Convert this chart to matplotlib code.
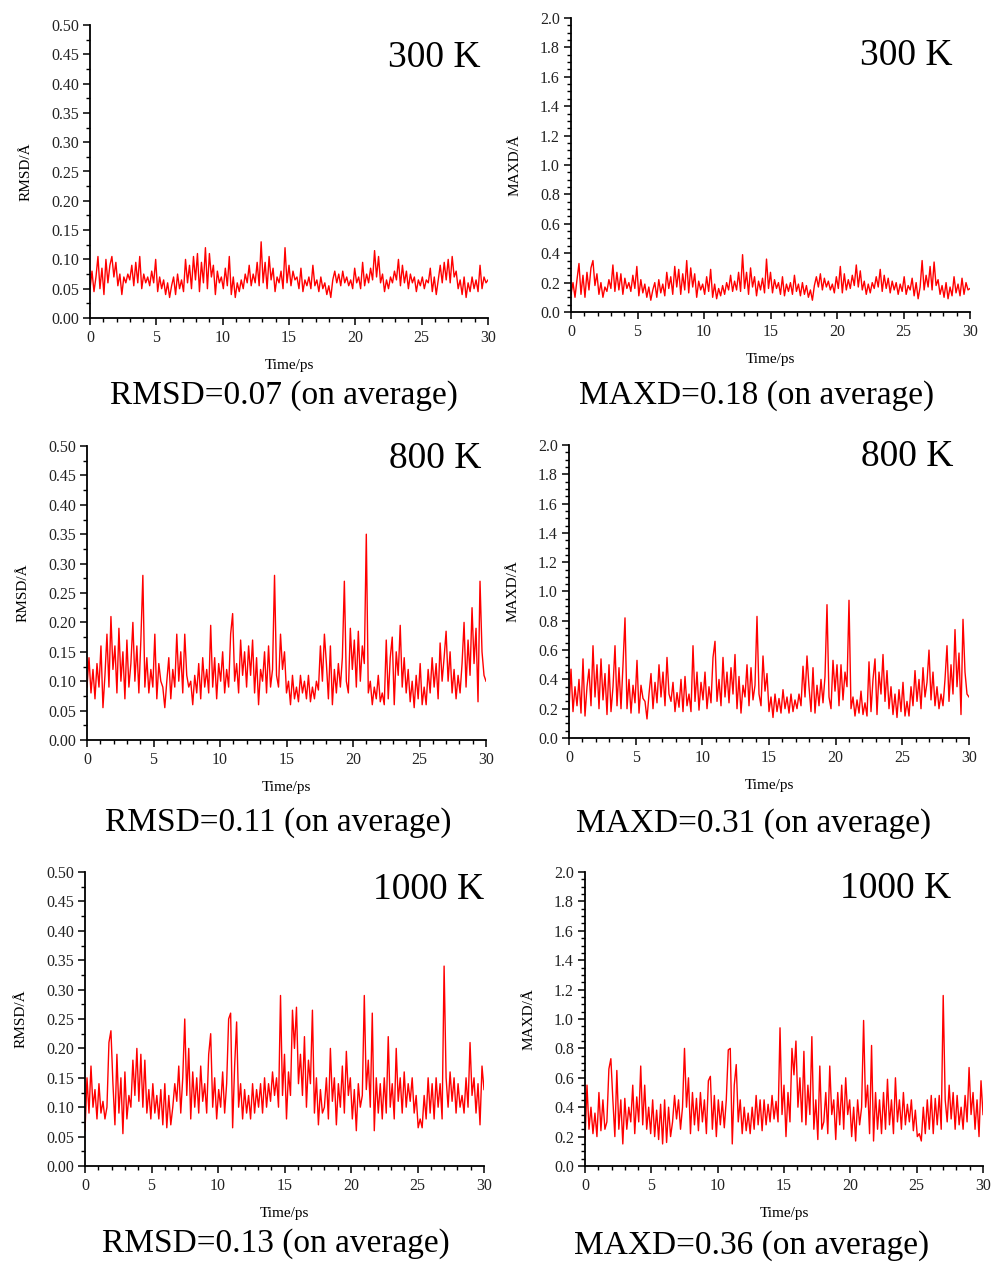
import matplotlib
matplotlib.use("Agg")
import matplotlib.pyplot as plt
import numpy as np
from matplotlib.ticker import MultipleLocator

plt.rcParams["font.family"] = ["Liberation Serif", "DejaVu Serif"]

# values every 0.15 ps (one row = 1.5 ps)
rmsd_300 = [
    0.05, 0.08, 0.045, 0.07, 0.105, 0.05, 0.085, 0.04, 0.10, 0.06,
    0.09, 0.105, 0.07, 0.095, 0.055, 0.075, 0.04, 0.07, 0.06, 0.075,
    0.065, 0.09, 0.055, 0.095, 0.06, 0.105, 0.05, 0.075, 0.06, 0.07,
    0.055, 0.08, 0.06, 0.10, 0.045, 0.07, 0.05, 0.065, 0.04, 0.06,
    0.035, 0.055, 0.07, 0.04, 0.075, 0.05, 0.065, 0.045, 0.10, 0.06,
    0.09, 0.05, 0.105, 0.065, 0.11, 0.045, 0.095, 0.06, 0.12, 0.05,
    0.11, 0.07, 0.09, 0.04, 0.08, 0.06, 0.07, 0.05, 0.085, 0.055,
    0.105, 0.04, 0.07, 0.035, 0.06, 0.045, 0.065, 0.05, 0.075, 0.06,
    0.09, 0.055, 0.075, 0.06, 0.095, 0.055, 0.13, 0.06, 0.095, 0.05,
    0.105, 0.065, 0.085, 0.045, 0.07, 0.06, 0.08, 0.05, 0.12, 0.06,
    0.09, 0.055, 0.08, 0.065, 0.07, 0.05, 0.085, 0.045, 0.065, 0.055,
    0.07, 0.05, 0.09, 0.055, 0.065, 0.045, 0.07, 0.05, 0.06, 0.04,
    0.055, 0.035, 0.065, 0.08, 0.06, 0.075, 0.055, 0.08, 0.06, 0.07,
    0.055, 0.065, 0.05, 0.085, 0.06, 0.07, 0.05, 0.095, 0.055, 0.075,
    0.06, 0.085, 0.065, 0.115, 0.07, 0.105, 0.06, 0.075, 0.045, 0.065,
    0.05, 0.07, 0.06, 0.08, 0.065, 0.10, 0.055, 0.09, 0.06, 0.08,
    0.05, 0.075, 0.06, 0.07, 0.045, 0.065, 0.055, 0.07, 0.05, 0.065,
    0.06, 0.085, 0.045, 0.07, 0.04, 0.065, 0.09, 0.06, 0.095, 0.065,
    0.10, 0.06, 0.105, 0.07, 0.08, 0.05, 0.065, 0.04, 0.07, 0.035,
    0.06, 0.045, 0.07, 0.05, 0.065, 0.045, 0.09, 0.05, 0.07, 0.06,
    0.065,
]
maxd_300 = [
    0.12, 0.20, 0.10, 0.22, 0.33, 0.12, 0.25, 0.10, 0.27, 0.15,
    0.30, 0.35, 0.18, 0.26, 0.12, 0.20, 0.10, 0.17, 0.14, 0.22,
    0.16, 0.32, 0.14, 0.27, 0.15, 0.26, 0.12, 0.23, 0.16, 0.20,
    0.14, 0.25, 0.16, 0.31, 0.11, 0.22, 0.13, 0.19, 0.10, 0.17,
    0.08, 0.15, 0.20, 0.10, 0.22, 0.13, 0.19, 0.11, 0.27, 0.16,
    0.24, 0.12, 0.31, 0.17, 0.29, 0.12, 0.26, 0.15, 0.35, 0.13,
    0.30, 0.17, 0.26, 0.10, 0.21, 0.15, 0.19, 0.12, 0.24, 0.14,
    0.29, 0.10, 0.19, 0.09, 0.16, 0.11, 0.18, 0.12, 0.20, 0.15,
    0.25, 0.14, 0.21, 0.15, 0.27, 0.14, 0.39, 0.16, 0.27, 0.12,
    0.30, 0.17, 0.24, 0.11, 0.21, 0.15, 0.23, 0.13, 0.36, 0.16,
    0.27, 0.13, 0.22, 0.16, 0.20, 0.12, 0.24, 0.11, 0.19, 0.14,
    0.20, 0.12, 0.25, 0.14, 0.19, 0.11, 0.20, 0.12, 0.18, 0.10,
    0.15, 0.08, 0.18, 0.24, 0.17, 0.26, 0.15, 0.23, 0.17, 0.21,
    0.15, 0.19, 0.13, 0.24, 0.16, 0.31, 0.13, 0.26, 0.15, 0.22,
    0.16, 0.25, 0.18, 0.32, 0.17, 0.28, 0.15, 0.21, 0.12, 0.19,
    0.13, 0.20, 0.16, 0.24, 0.17, 0.29, 0.14, 0.25, 0.16, 0.23,
    0.13, 0.21, 0.15, 0.20, 0.12, 0.19, 0.14, 0.24, 0.12, 0.18,
    0.15, 0.23, 0.11, 0.20, 0.09, 0.17, 0.35, 0.15, 0.25, 0.17,
    0.31, 0.15, 0.34, 0.18, 0.22, 0.12, 0.18, 0.10, 0.20, 0.09,
    0.17, 0.11, 0.24, 0.13, 0.19, 0.11, 0.23, 0.12, 0.20, 0.15,
    0.16,
]
rmsd_800 = [
    0.09, 0.14, 0.08, 0.12, 0.07, 0.13, 0.09, 0.16, 0.055, 0.11,
    0.18, 0.09, 0.21, 0.12, 0.16, 0.08, 0.19, 0.10, 0.15, 0.07,
    0.17, 0.09, 0.13, 0.20, 0.10, 0.16, 0.08, 0.17, 0.28, 0.09,
    0.14, 0.08, 0.12, 0.09, 0.18, 0.07, 0.13, 0.10, 0.09, 0.055,
    0.10, 0.14, 0.07, 0.12, 0.09, 0.18, 0.10, 0.15, 0.08, 0.18,
    0.11, 0.09, 0.10, 0.06, 0.11, 0.08, 0.13, 0.07, 0.14, 0.09,
    0.12, 0.08, 0.195, 0.09, 0.14, 0.07, 0.13, 0.10, 0.15, 0.08,
    0.12, 0.09, 0.18, 0.215, 0.10, 0.13, 0.08, 0.17, 0.11, 0.15,
    0.09, 0.16, 0.11, 0.17, 0.08, 0.14, 0.06, 0.12, 0.10, 0.15,
    0.08, 0.16, 0.09, 0.12, 0.28, 0.11, 0.09, 0.18, 0.12, 0.15,
    0.08, 0.10, 0.06, 0.11, 0.07, 0.09, 0.065, 0.11, 0.08, 0.10,
    0.07, 0.11, 0.065, 0.09, 0.07, 0.10, 0.085, 0.16, 0.10, 0.18,
    0.13, 0.07, 0.16, 0.06, 0.12, 0.08, 0.13, 0.09, 0.14, 0.27,
    0.10, 0.08, 0.19, 0.12, 0.17, 0.09, 0.185, 0.10, 0.16, 0.13,
    0.35, 0.08, 0.10, 0.06, 0.09, 0.07, 0.11, 0.065, 0.08, 0.06,
    0.17, 0.07, 0.14, 0.175, 0.06, 0.15, 0.11, 0.195, 0.09, 0.14,
    0.08, 0.12, 0.065, 0.10, 0.055, 0.11, 0.07, 0.13, 0.06, 0.09,
    0.06, 0.12, 0.08, 0.14, 0.09, 0.13, 0.07, 0.165, 0.10, 0.14,
    0.185, 0.10, 0.15, 0.08, 0.12, 0.07, 0.11, 0.08, 0.13, 0.20,
    0.09, 0.17, 0.11, 0.225, 0.13, 0.19, 0.065, 0.27, 0.15, 0.11,
    0.10,
]
maxd_800 = [
    0.20, 0.47, 0.18, 0.35, 0.22, 0.40, 0.17, 0.54, 0.15, 0.35,
    0.47, 0.22, 0.63, 0.28, 0.50, 0.20, 0.54, 0.26, 0.44, 0.16,
    0.50, 0.18, 0.35, 0.63, 0.22, 0.48, 0.20, 0.50, 0.82, 0.20,
    0.40, 0.17, 0.36, 0.24, 0.53, 0.17, 0.36, 0.27, 0.25, 0.13,
    0.30, 0.44, 0.20, 0.38, 0.24, 0.50, 0.28, 0.45, 0.22, 0.55,
    0.30, 0.25, 0.38, 0.18, 0.31, 0.21, 0.40, 0.18, 0.42, 0.22,
    0.30, 0.18, 0.63, 0.25, 0.45, 0.19, 0.38, 0.26, 0.45, 0.20,
    0.35, 0.24, 0.55, 0.66, 0.25, 0.40, 0.22, 0.55, 0.28, 0.45,
    0.24, 0.48, 0.30, 0.57, 0.20, 0.42, 0.17, 0.36, 0.28, 0.50,
    0.22, 0.48, 0.26, 0.36, 0.83, 0.30, 0.22, 0.56, 0.32, 0.44,
    0.18, 0.28, 0.14, 0.30, 0.18, 0.27, 0.17, 0.33, 0.20, 0.28,
    0.17, 0.30, 0.18, 0.26, 0.20, 0.30, 0.22, 0.49, 0.28, 0.56,
    0.35, 0.18, 0.48, 0.17, 0.36, 0.22, 0.40, 0.24, 0.42, 0.91,
    0.28, 0.20, 0.53, 0.32, 0.50, 0.22, 0.50, 0.26, 0.45, 0.35,
    0.94, 0.20, 0.28, 0.15, 0.26, 0.17, 0.32, 0.16, 0.24, 0.15,
    0.52, 0.18, 0.40, 0.54, 0.16, 0.45, 0.30, 0.57, 0.25, 0.46,
    0.20, 0.35, 0.16, 0.30, 0.14, 0.33, 0.18, 0.38, 0.15, 0.25,
    0.15, 0.35, 0.22, 0.46, 0.25, 0.40, 0.20, 0.48, 0.28, 0.38,
    0.60, 0.26, 0.45, 0.22, 0.35, 0.20, 0.30, 0.22, 0.40, 0.63,
    0.25, 0.50, 0.30, 0.74, 0.35, 0.58, 0.16, 0.81, 0.45, 0.30,
    0.28,
]
rmsd_1000 = [
    0.06, 0.15, 0.09, 0.17, 0.10, 0.13, 0.08, 0.14, 0.09, 0.11,
    0.08, 0.10, 0.21, 0.23, 0.14, 0.07, 0.19, 0.09, 0.15, 0.055,
    0.16, 0.08, 0.12, 0.10, 0.18, 0.12, 0.20, 0.11, 0.19, 0.10,
    0.18, 0.09, 0.13, 0.08, 0.14, 0.09, 0.12, 0.08, 0.13, 0.07,
    0.14, 0.065, 0.12, 0.07, 0.10, 0.14, 0.11, 0.17, 0.09, 0.15,
    0.25, 0.12, 0.20, 0.08, 0.16, 0.10, 0.15, 0.09, 0.17, 0.11,
    0.14, 0.09, 0.19, 0.225, 0.10, 0.15, 0.08, 0.13, 0.10, 0.16,
    0.09, 0.14, 0.25, 0.26, 0.065, 0.17, 0.245, 0.10, 0.14, 0.08,
    0.13, 0.09, 0.12, 0.08, 0.14, 0.09, 0.13, 0.10, 0.14, 0.09,
    0.15, 0.10, 0.14, 0.11, 0.16, 0.12, 0.15, 0.10, 0.29, 0.12,
    0.19, 0.08, 0.16, 0.12, 0.265, 0.20, 0.27, 0.14, 0.19, 0.12,
    0.22, 0.10, 0.18, 0.14, 0.265, 0.09, 0.15, 0.07, 0.13, 0.09,
    0.10, 0.15, 0.08, 0.20, 0.11, 0.15, 0.07, 0.14, 0.10, 0.17,
    0.09, 0.195, 0.12, 0.15, 0.08, 0.13, 0.06, 0.14, 0.10, 0.12,
    0.29, 0.13, 0.18, 0.10, 0.26, 0.06, 0.15, 0.09, 0.14, 0.08,
    0.15, 0.09, 0.22, 0.10, 0.14, 0.08, 0.20, 0.11, 0.15, 0.09,
    0.16, 0.10, 0.14, 0.11, 0.15, 0.09, 0.12, 0.065, 0.08, 0.065,
    0.12, 0.08, 0.15, 0.09, 0.14, 0.08, 0.15, 0.10, 0.14, 0.08,
    0.34, 0.15, 0.10, 0.16, 0.11, 0.15, 0.09, 0.14, 0.10, 0.12,
    0.09, 0.15, 0.10, 0.21, 0.12, 0.15, 0.09, 0.14, 0.07, 0.17,
    0.13,
]
maxd_1000 = [
    0.18, 0.55, 0.25, 0.40, 0.22, 0.36, 0.20, 0.50, 0.24, 0.45,
    0.25, 0.30, 0.66, 0.73, 0.45, 0.20, 0.65, 0.25, 0.45, 0.15,
    0.46, 0.25, 0.40, 0.30, 0.55, 0.22, 0.47, 0.30, 0.68, 0.28,
    0.55, 0.25, 0.40, 0.22, 0.45, 0.20, 0.38, 0.18, 0.42, 0.15,
    0.45, 0.16, 0.40, 0.20, 0.30, 0.48, 0.32, 0.45, 0.25, 0.40,
    0.80, 0.40, 0.60, 0.22, 0.50, 0.28, 0.46, 0.24, 0.50, 0.30,
    0.45, 0.22, 0.58, 0.61, 0.25, 0.48, 0.20, 0.45, 0.28, 0.44,
    0.26, 0.45, 0.79, 0.80, 0.15, 0.55, 0.69, 0.30, 0.45, 0.22,
    0.40, 0.24, 0.36, 0.22, 0.40, 0.25, 0.48, 0.28, 0.45, 0.24,
    0.45, 0.28, 0.42, 0.30, 0.48, 0.32, 0.44, 0.30, 0.94, 0.35,
    0.55, 0.20, 0.50, 0.30, 0.80, 0.62, 0.85, 0.40, 0.60, 0.30,
    0.78, 0.28, 0.55, 0.35, 0.88, 0.25, 0.45, 0.18, 0.68, 0.25,
    0.30, 0.50, 0.22, 0.68, 0.35, 0.45, 0.18, 0.50, 0.28, 0.55,
    0.25, 0.60, 0.35, 0.45, 0.20, 0.40, 0.17, 0.45, 0.28, 0.40,
    0.99, 0.40, 0.55, 0.22, 0.82, 0.17, 0.50, 0.25, 0.45, 0.22,
    0.50, 0.25, 0.59, 0.28, 0.45, 0.22, 0.60, 0.30, 0.45, 0.25,
    0.50, 0.28, 0.42, 0.30, 0.45, 0.24, 0.38, 0.20, 0.22, 0.17,
    0.40, 0.22, 0.45, 0.25, 0.48, 0.22, 0.46, 0.28, 0.48, 0.25,
    1.16, 0.45, 0.30, 0.55, 0.32, 0.50, 0.25, 0.48, 0.28, 0.40,
    0.25, 0.48, 0.30, 0.67, 0.35, 0.50, 0.25, 0.45, 0.20, 0.58,
    0.35,
]

temps = ["300 K", "800 K", "1000 K"]
rmsd_avg = ["0.07", "0.11", "0.13"]
maxd_avg = ["0.18", "0.31", "0.36"]

W, H = 994, 1263


def box(l, t, r, b):
    """pixel box (left, top, right, bottom) -> figure fraction rect"""
    return [l / W, 1 - b / H, (r - l) / W, (b - t) / H]


# (series, kind, avg, temp, axes box, temp label xy, caption xy)
panels = [
    (rmsd_300, "RMSD", rmsd_avg[0], temps[0], box(90, 25, 488, 318), (481, 58), (284, 396)),
    (maxd_300, "MAXD", maxd_avg[0], temps[0], box(571, 18, 970, 312), (953, 56), (757, 396)),
    (rmsd_800, "RMSD", rmsd_avg[1], temps[1], box(87, 446, 486, 740), (481, 459), (278, 823)),
    (maxd_800, "MAXD", maxd_avg[1], temps[1], box(569, 445, 969, 738), (953, 457), (754, 824)),
    (rmsd_1000, "RMSD", rmsd_avg[2], temps[2], box(85, 872, 484, 1166), (484, 890), (276, 1244)),
    (maxd_1000, "MAXD", maxd_avg[2], temps[2], box(585, 872, 983, 1166), (951, 889), (752, 1246)),
]

fig = plt.figure(figsize=(W / 100, H / 100), dpi=100)

for vals, kind, avg, temp, rect, tpos, cpos in panels:
    ax = fig.add_axes(rect)
    t = np.linspace(0, 30, len(vals))
    ax.plot(t, vals, color="#ff0000", linewidth=1.0)

    ax.set_xlim(0, 30)
    ax.xaxis.set_major_locator(MultipleLocator(5))
    ax.xaxis.set_minor_locator(MultipleLocator(1))
    if kind == "RMSD":
        ax.set_ylim(0, 0.5)
        ax.yaxis.set_major_locator(MultipleLocator(0.05))
        ax.yaxis.set_minor_locator(MultipleLocator(0.025))
        ax.yaxis.set_major_formatter(plt.FormatStrFormatter("%.2f"))
    else:
        ax.set_ylim(0, 2.0)
        ax.yaxis.set_major_locator(MultipleLocator(0.2))
        ax.yaxis.set_minor_locator(MultipleLocator(0.05))
        ax.yaxis.set_major_formatter(plt.FormatStrFormatter("%.1f"))

    ax.spines[["top", "right"]].set_visible(False)
    for s in ("left", "bottom"):
        ax.spines[s].set_linewidth(1.3)
    ax.tick_params(which="major", direction="out", length=5, width=1.1,
                   labelsize=11.5, labelcolor="#222222", pad=3)
    ax.tick_params(which="major", axis="x", pad=4)
    ax.tick_params(which="minor", direction="out", length=3, width=1.0)

    ax.set_xlabel("Time/ps", fontsize=11, labelpad=9)
    ax.set_ylabel(f"{kind}/Å", fontsize=11, labelpad=13)

    fig.text(tpos[0] / W, 1 - tpos[1] / H, temp, fontsize=27,
             ha="right", va="center")
    fig.text(cpos[0] / W, 1 - cpos[1] / H, f"{kind}={avg} (on average)",
             fontsize=24, ha="center", va="center")

fig.savefig("out.png", dpi=100)
